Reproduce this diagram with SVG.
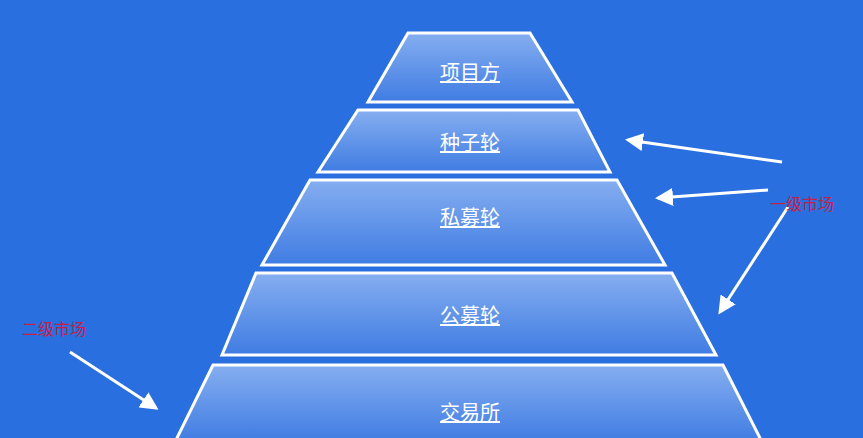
<svg xmlns="http://www.w3.org/2000/svg" width="863" height="438" viewBox="0 0 863 438">
<defs>
<linearGradient id="g" x1="0" y1="0" x2="0" y2="1"><stop offset="0" stop-color="#86aef0"/><stop offset="1" stop-color="#3f7ce2"/></linearGradient>
<marker id="ah" markerWidth="6" markerHeight="6" refX="5" refY="3" orient="auto" markerUnits="strokeWidth"><path d="M0,0 L6,3 L0,6 Z" fill="#fff"/></marker>
<style>
.t{fill:url(#g);stroke:#fff;stroke-width:3}
.l{font-family:"Noto Sans CJK SC",sans-serif;font-size:20px;fill:#fff;text-anchor:middle;text-decoration:underline}
.c{stroke:#fff;stroke-width:3;fill:none;marker-end:url(#ah)}
.m{font-family:"Noto Sans CJK SC",sans-serif;font-size:16px;fill:#c0224a}
</style>
</defs>
<rect width="863" height="438" fill="#2a6fe0"/>
<g id="n1"><polygon class="t" points="408,33 530,33 572,102 368,102"/><text class="l" x="470" y="80">项目方</text></g>
<g id="n2"><polygon class="t" points="358,110 578,110 610,172 318,172"/><text class="l" x="470" y="150">种子轮</text></g>
<g id="n3"><polygon class="t" points="310,180 617,180 665,265 262,265"/><text class="l" x="470" y="225">私募轮</text></g>
<g id="n4"><polygon class="t" points="256,273 672,273 716,355 222,355"/><text class="l" x="470" y="323">公募轮</text></g>
<g id="n5"><polygon class="t" points="213,365 723,365 762,442 175,442"/><text class="l" x="470" y="420">交易所</text></g>
<g id="connectors">
<line class="c" x1="782" y1="162" x2="628" y2="140"/>
<line class="c" x1="768" y1="190" x2="658" y2="198"/>
<line class="c" x1="788" y1="207" x2="720" y2="312"/>
<line class="c" x1="70" y1="352" x2="156" y2="408"/>
</g>
<text class="m" x="770" y="210">一级市场</text>
<text class="m" x="22" y="335">二级市场</text>
</svg>
